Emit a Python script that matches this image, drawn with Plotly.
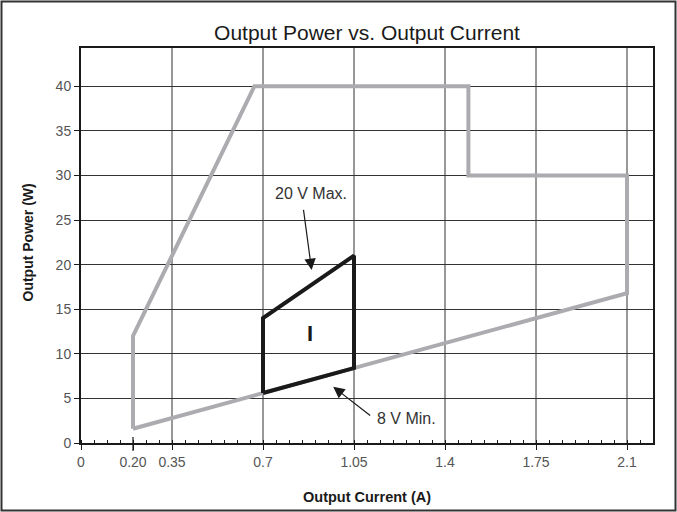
import plotly.graph_objects as go

# ---- data ----
OUTER_I = [0.2, 0.2, 0.667, 1.49, 1.49, 2.1, 2.1, 0.2]
OUTER_P = [1.6, 12, 40, 40, 30, 30, 16.8, 1.6]
INNER_I = [0.7, 0.7, 1.05, 1.05, 0.7]
INNER_P = [5.6, 14, 21, 8.4, 5.6]

X_TICKVALS = [0, 0.2, 0.35, 0.7, 1.05, 1.4, 1.75, 2.1]
X_TICKTEXT = ["0", "0.20", "0.35", "0.7", "1.05", "1.4", "1.75", "2.1"]
X_GRID = [0.35, 0.7, 1.05, 1.4, 1.75, 2.1]
Y_TICKVALS = [0, 5, 10, 15, 20, 25, 30, 35, 40]

TITLE = "Output Power vs. Output Current"
X_TITLE = "Output Current (A)"
Y_TITLE = "Output Power (W)"

# annotation anchors (data coordinates)
MAX_LABEL = ("20 V Max.", 0.885, 28.0)
MAX_ARROW = (0.855, 26.3, 0.887, 19.4)   # tail x,y -> head x,y
MIN_LABEL = ("8 V Min.", 1.13, 2.7)
MIN_ARROW = (1.118, 2.95, 0.970, 6.3)
REGION_LABEL = ("I", 0.88, 12.3)

W, H = 677, 512
L, R, T, B = 81, 24, 48, 69
PW, PH = W - L - R, H - T - B
FONT = "Liberation Sans, Arial, Helvetica, sans-serif"

fig = go.Figure()
fig.add_trace(go.Scatter(x=OUTER_I, y=OUTER_P, mode="lines",
                         line=dict(color="#acacb0", width=4), hoverinfo="skip",
                         showlegend=False))
fig.add_trace(go.Scatter(x=INNER_I, y=INNER_P, mode="lines",
                         line=dict(color="#1a1a1a", width=4), hoverinfo="skip",
                         showlegend=False))

shapes = []
for gx in X_GRID:
    shapes.append(dict(type="line", xref="x", yref="paper", x0=gx, x1=gx, y0=0, y1=1,
                       line=dict(color="#333333", width=1), layer="below"))
# longer outward tick at 0.20
shapes.append(dict(type="line", xref="x", yref="paper", x0=X_TICKVALS[1], x1=X_TICKVALS[1],
                   y0=-8 / PH, y1=6 / PH, line=dict(color="#1a1a1a", width=1.2)))
# outer frame
shapes.append(dict(type="rect", xref="paper", yref="paper",
                   x0=(1.5 - L) / PW, x1=(W - 1.5 - L) / PW,
                   y0=(H - B - (H - 1.5)) / PH, y1=(H - B - 1.5) / PH,
                   line=dict(color="#333333", width=2), fillcolor="rgba(0,0,0,0)"))

annotations = [
    dict(text=MAX_LABEL[0], x=MAX_LABEL[1], y=MAX_LABEL[2], xref="x", yref="y",
         showarrow=False, font=dict(family=FONT, size=16, color="#333333")),
    dict(text="", x=MAX_ARROW[2], y=MAX_ARROW[3], ax=MAX_ARROW[0], ay=MAX_ARROW[1],
         xref="x", yref="y", axref="x", ayref="y", showarrow=True,
         arrowhead=2, arrowsize=1.9, arrowwidth=1.2, arrowcolor="#1a1a1a"),
    dict(text=MIN_LABEL[0], x=MIN_LABEL[1], y=MIN_LABEL[2], xref="x", yref="y",
         xanchor="left", showarrow=False, font=dict(family=FONT, size=16, color="#333333")),
    dict(text="", x=MIN_ARROW[2], y=MIN_ARROW[3], ax=MIN_ARROW[0], ay=MIN_ARROW[1],
         xref="x", yref="y", axref="x", ayref="y", showarrow=True,
         arrowhead=2, arrowsize=1.9, arrowwidth=1.2, arrowcolor="#1a1a1a"),
    dict(text="<b>" + REGION_LABEL[0] + "</b>", x=REGION_LABEL[1], y=REGION_LABEL[2],
         xref="x", yref="y", showarrow=False,
         font=dict(family=FONT, size=22, color="#1a1a1a")),
    dict(text="<b>" + X_TITLE + "</b>", xref="paper", yref="paper",
         x=0.5, y=(H - B - 497) / PH, yanchor="middle", showarrow=False,
         font=dict(family=FONT, size=14.5, color="#1a1a1a")),
    dict(text="<b>" + Y_TITLE + "</b>", xref="paper", yref="paper",
         x=(27.5 - L) / PW, y=(H - B - 243) / PH, textangle=-90,
         xanchor="center", yanchor="middle", showarrow=False,
         font=dict(family=FONT, size=14, color="#1a1a1a")),
]

fig.update_layout(
    width=W, height=H,
    margin=dict(l=L, r=R, t=T, b=B),
    paper_bgcolor="white", plot_bgcolor="white",
    title=dict(text=TITLE, x=0.5, xref="paper", xanchor="center",
               y=1 - 33 / H, yref="container", yanchor="middle",
               font=dict(family=FONT, size=21, color="#1a1a1a")),
    shapes=shapes, annotations=annotations,
    xaxis=dict(range=[0, 2.2], tickmode="array", tickvals=X_TICKVALS, ticktext=X_TICKTEXT,
               ticks="outside", ticklen=5, tickcolor="#1a1a1a", tickwidth=1,
               showgrid=False, zeroline=False,
               showline=True, linecolor="#1a1a1a", linewidth=2, mirror=True,
               tickfont=dict(family=FONT, size=14, color="#555555"),
               minor=dict(tickmode="linear", tick0=0, dtick=0.05, ticks="inside",
                          ticklen=3, tickcolor="#1a1a1a", tickwidth=1, showgrid=False)),
    yaxis=dict(range=[0, PH / 8.92], tickmode="array", tickvals=Y_TICKVALS,
               ticks="outside", ticklen=5, tickcolor="#1a1a1a", tickwidth=1,
               showgrid=True, gridcolor="#333333", gridwidth=1, zeroline=False,
               showline=True, linecolor="#1a1a1a", linewidth=2, mirror=True,
               tickfont=dict(family=FONT, size=14, color="#555555")),
)

fig.write_html("out.html", config={"displayModeBar": False},
               post_script="document.body.style.margin='0';document.body.style.padding='0';")
